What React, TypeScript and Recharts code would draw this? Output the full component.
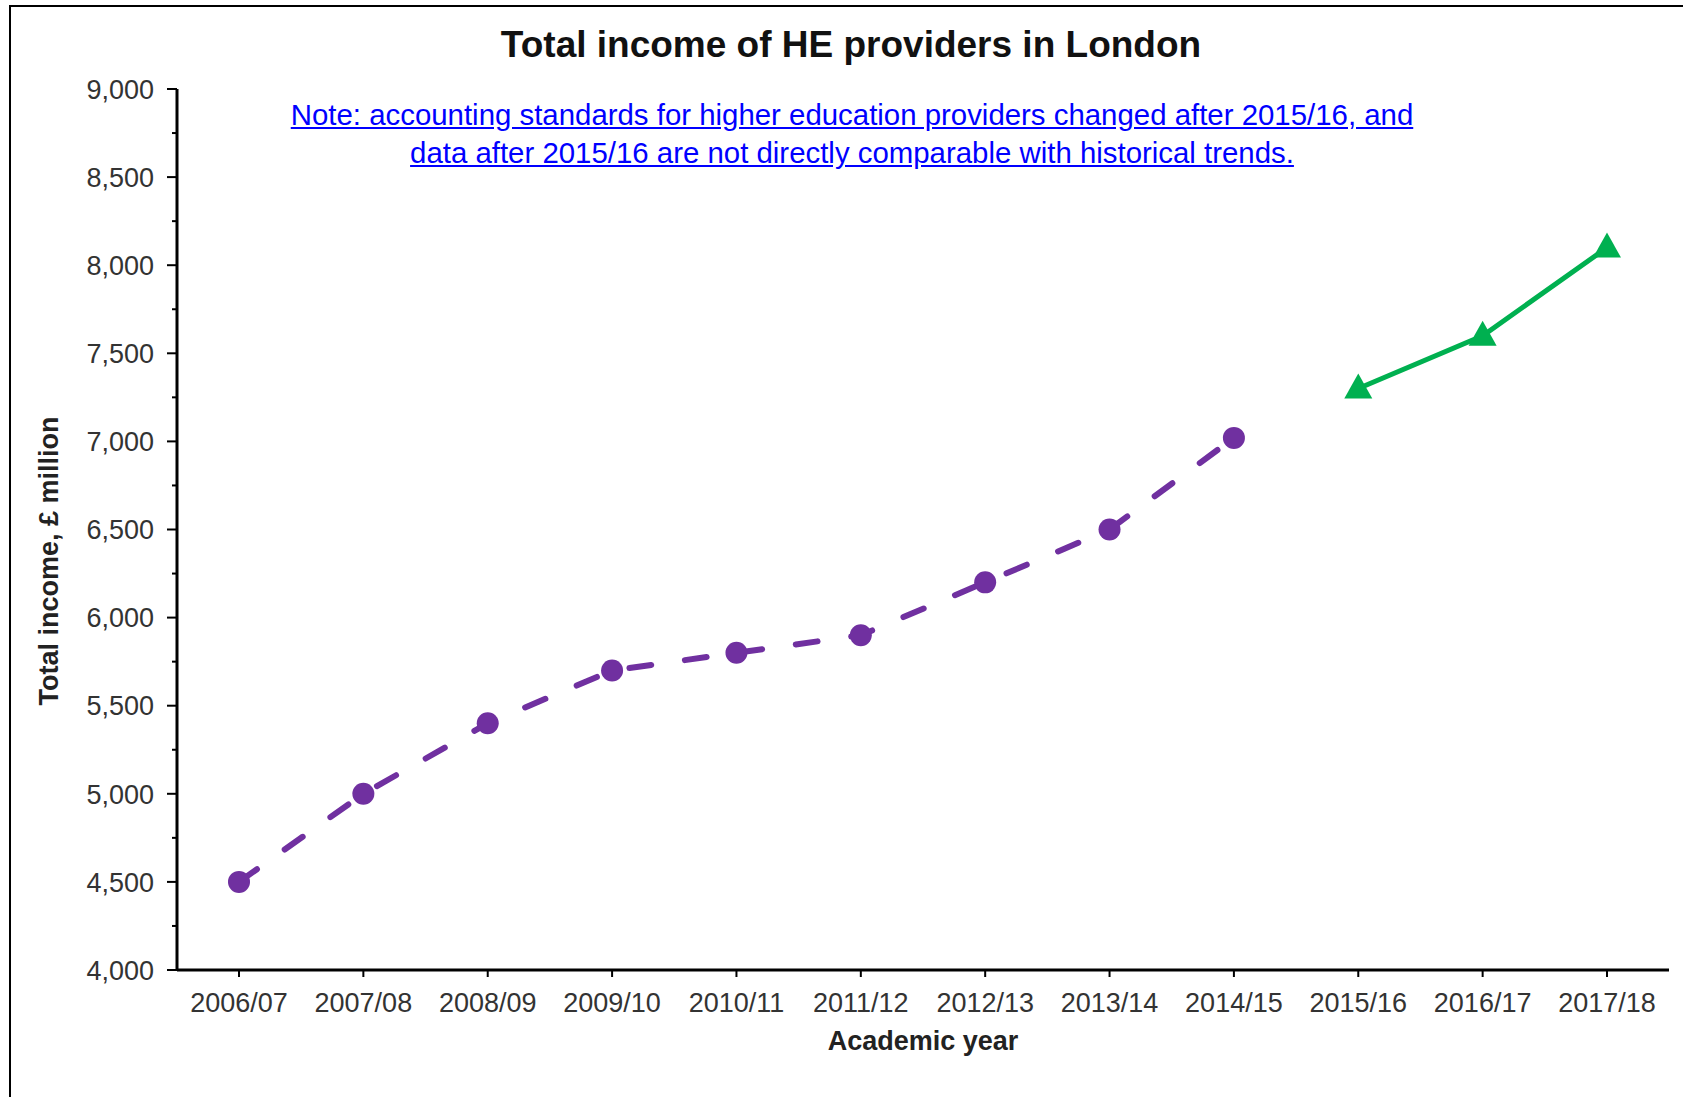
import React from 'react';
import { LineChart, Line, XAxis, YAxis, Label } from 'recharts';

const years = [
  '2006/07', '2007/08', '2008/09', '2009/10', '2010/11', '2011/12',
  '2012/13', '2013/14', '2014/15', '2015/16', '2016/17', '2017/18',
];
const historic = [4500, 5000, 5400, 5700, 5800, 5900, 6200, 6500, 7020, null, null, null];
const restated = [null, null, null, null, null, null, null, null, null, 7300, 7600, 8100];
const yTicks = [
  4000, 4250, 4500, 4750, 5000, 5250, 5500, 5750, 6000, 6250, 6500,
  6750, 7000, 7250, 7500, 7750, 8000, 8250, 8500, 8750, 9000,
];

const FONT = '"Liberation Sans", Arial, sans-serif';
const Y_TICK_SIZE = 10;
const Y_TICK_MARGIN = 13;

const data = years.map((year, i) => ({ year, historic: historic[i], restated: restated[i] }));

const YTick = (props: any) => {
  const { x, y, payload } = props;
  const v = payload.value as number;
  const major = v % 500 === 0;
  const axisX = x + Y_TICK_SIZE + Y_TICK_MARGIN;
  return (
    <g>
      <line x1={axisX - (major ? Y_TICK_SIZE : 5)} x2={axisX} y1={y} y2={y} stroke="#000" strokeWidth={2} />
      {major && (
        <text x={x} y={y} dy="0.36em" textAnchor="end" fill="#333" fontSize={27} fontFamily={FONT}>
          {v.toLocaleString('en-US')}
        </text>
      )}
    </g>
  );
};

const Triangle = (props: any) => {
  const { cx, cy } = props;
  if (cx == null || cy == null) return null;
  return (
    <polygon
      points={`${cx},${cy - 15} ${cx - 14},${cy + 10} ${cx + 14},${cy + 10}`}
      fill="#00B050"
    />
  );
};

const App: React.FC = () => {
  return (
    <div style={{ position: 'absolute', left: 0, top: 0, width: 1683, height: 1097, overflow: 'hidden', background: '#fff' }}>
      <div style={{ position: 'absolute', left: 9, top: 5, width: 1800, height: 1200, border: '2px solid #000' }} />
      <div
        style={{
          position: 'absolute', left: 0, top: 24, width: 1702, textAlign: 'center',
          fontFamily: FONT, fontWeight: 'bold', fontSize: 37, lineHeight: '42px', color: '#111',
        }}
      >
        Total income of HE providers in London
      </div>
      <div
        style={{
          position: 'absolute', left: 0, top: 96, width: 1704, textAlign: 'center',
          fontFamily: FONT, fontSize: 29.4, lineHeight: '38px', color: '#0000FF', textDecoration: 'underline',
        }}
      >
        Note: accounting standards for higher education providers changed after 2015/16, and
        <br />
        data after 2015/16 are not directly comparable with historical trends.
      </div>
      <div style={{ position: 'absolute', left: 0, top: 0 }}>
        <LineChart width={1683} height={1097} data={data} margin={{ top: 89, right: 14, bottom: 0, left: 0 }}>
          <XAxis
            dataKey="year"
            interval={0}
            padding={{ left: 62, right: 62 }}
            height={127}
            tickSize={7}
            tickMargin={16}
            axisLine={{ stroke: '#000', strokeWidth: 3 }}
            tickLine={{ stroke: '#000', strokeWidth: 2 }}
            tick={{ fill: '#333', fontSize: 27, fontFamily: FONT }}
          >
            <Label
              content={({ viewBox }: any) => (
                <text
                  x={viewBox.x + viewBox.width / 2}
                  y={1050}
                  textAnchor="middle"
                  fontFamily={FONT}
                  fontWeight="bold"
                  fontSize={27}
                  fill="#222"
                >
                  Academic year
                </text>
              )}
            />
          </XAxis>
          <YAxis
            type="number"
            domain={[4000, 9000]}
            ticks={yTicks}
            interval={0}
            width={177}
            tickSize={Y_TICK_SIZE}
            tickMargin={Y_TICK_MARGIN}
            tickLine={false}
            axisLine={{ stroke: '#000', strokeWidth: 3 }}
            tick={<YTick />}
          >
            <Label
              content={() => (
                <text
                  x={48}
                  y={561}
                  transform="rotate(-90, 48, 561)"
                  textAnchor="middle"
                  dy="0.36em"
                  fontFamily={FONT}
                  fontWeight="bold"
                  fontSize={27}
                  fill="#222"
                >
                  Total income, £ million
                </text>
              )}
            />
          </YAxis>
          <Line
            dataKey="historic"
            stroke="#7030A0"
            strokeWidth={6}
            strokeDasharray="22 34"
            strokeLinecap="round"
            dot={{ r: 11, fill: '#7030A0', stroke: 'none', strokeWidth: 0 }}
            activeDot={false}
            isAnimationActive={false}
          />
          <Line
            dataKey="restated"
            stroke="#00B050"
            strokeWidth={5}
            dot={<Triangle />}
            activeDot={false}
            isAnimationActive={false}
          />
        </LineChart>
      </div>
    </div>
  );
};

export default App;
